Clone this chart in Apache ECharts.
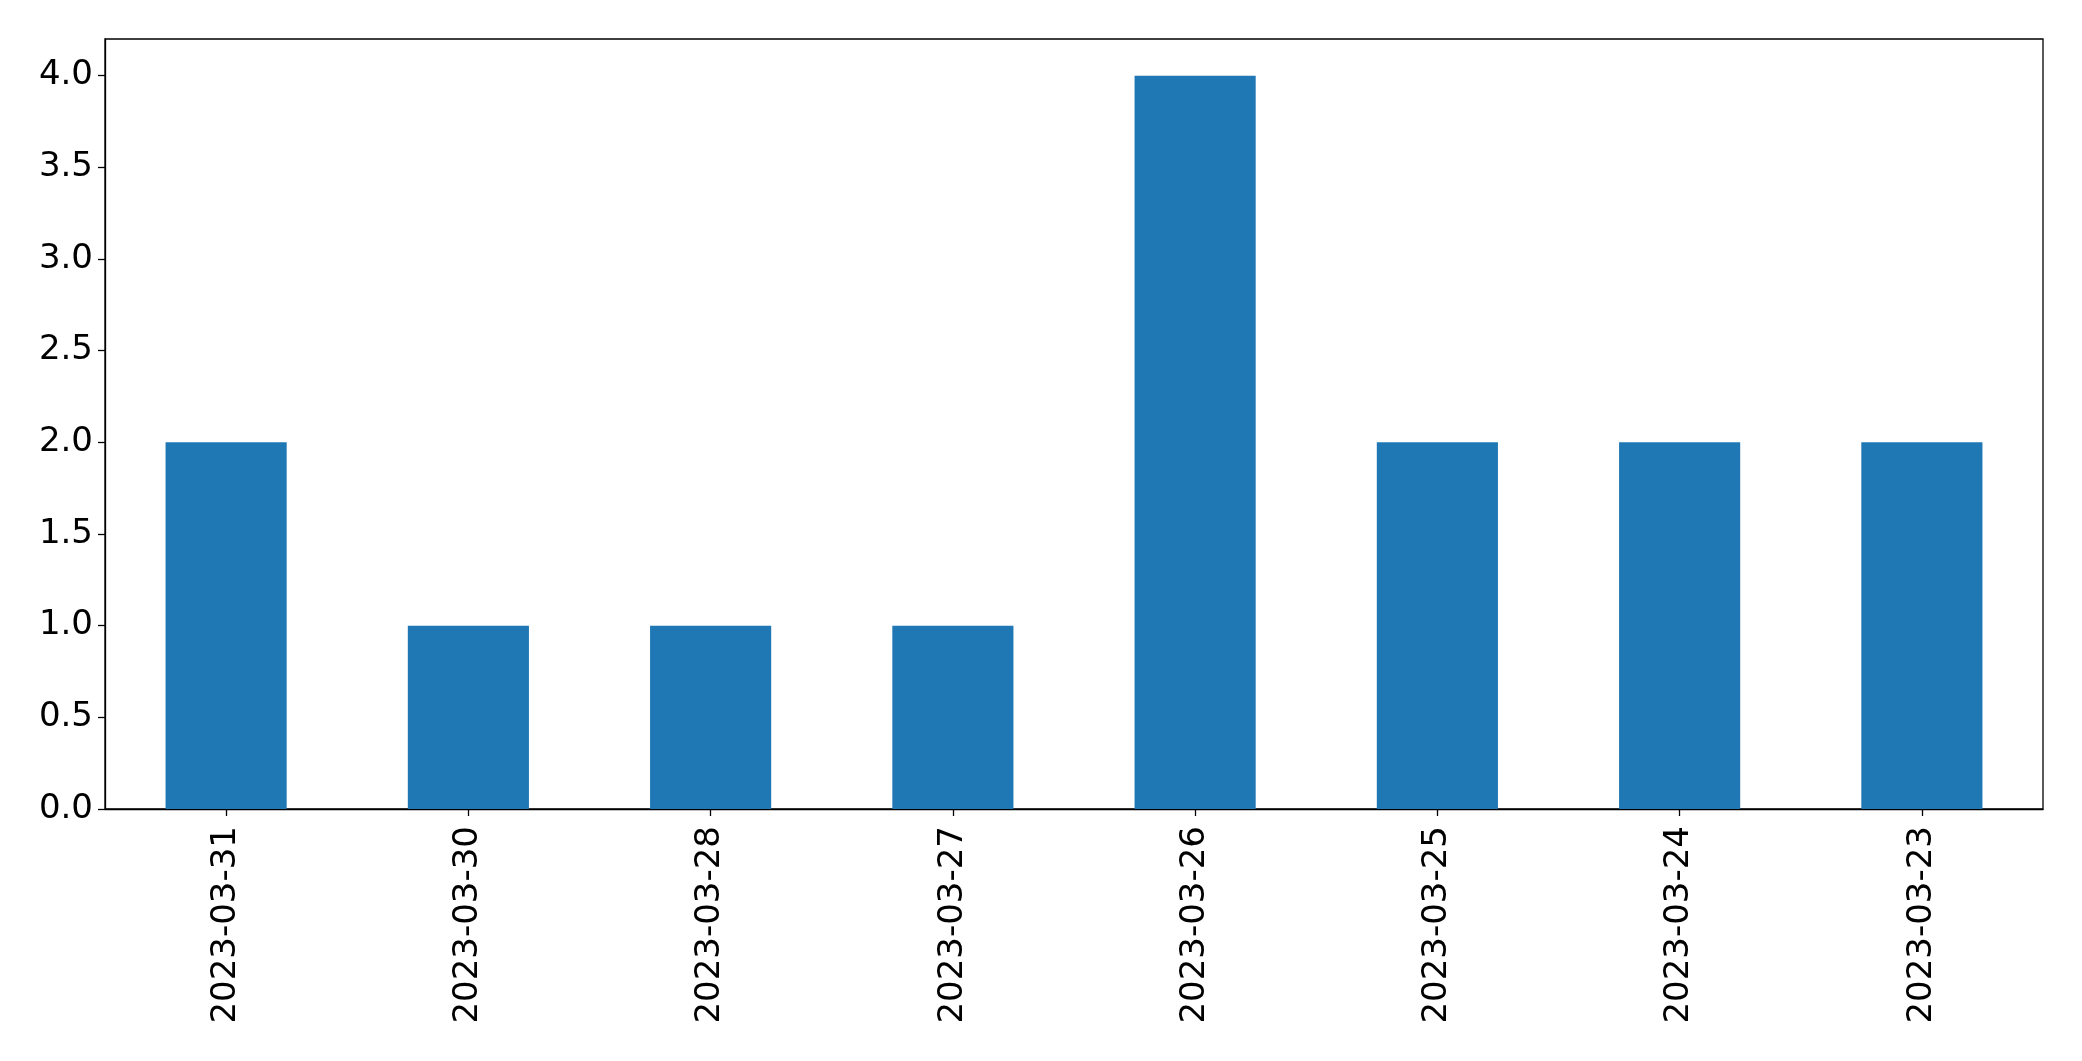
<!DOCTYPE html>
<html>
<head>
<meta charset="utf-8">
<script src="https://cdn.jsdelivr.net/npm/echarts@6/dist/echarts.min.js"></script>
<style>
html,body{margin:0;padding:0;background:#fff;}
#chart{width:2082px;height:1061px;}
</style>
</head>
<body>
<div id="chart"></div>
<script>
const categories = ['2023-03-31','2023-03-30','2023-03-28','2023-03-27','2023-03-26','2023-03-25','2023-03-24','2023-03-23'];
const values = [2, 1, 1, 1, 4, 2, 2, 2];
const yTicks = [0.0, 0.5, 1.0, 1.5, 2.0, 2.5, 3.0, 3.5, 4.0];

const chart = echarts.init(document.getElementById('chart'), null, {renderer: 'canvas'});
const font = 'DejaVu Sans';
chart.setOption({
  animation: false,
  backgroundColor: '#ffffff',
  grid: {
    left: 105, top: 39, right: 39, bottom: 252,
    show: true, borderColor: '#000', borderWidth: 1.3, backgroundColor: 'transparent'
  },
  xAxis: {
    type: 'category',
    data: categories,
    axisLine: {show: true, lineStyle: {color: '#000', width: 1.3}},
    axisTick: {show: true, alignWithLabel: true, length: 7, lineStyle: {color: '#000', width: 1.3}},
    axisLabel: {rotate: 90, color: '#000', fontSize: 34, fontFamily: font, margin: 17, interval: 0}
  },
  yAxis: {
    type: 'value',
    min: 0, max: 4.2, interval: 0.5,
    axisLine: {show: true, lineStyle: {color: '#000', width: 1.3}},
    axisTick: {show: true, length: 7, lineStyle: {color: '#000', width: 1.3}},
    splitLine: {show: false},
    axisLabel: {
      color: '#000', fontSize: 34, fontFamily: font, margin: 12,
      formatter: function (v) { return yTicks.indexOf(v) >= 0 ? v.toFixed(1) : ''; },
      showMaxLabel: false
    }
  },
  series: [{
    type: 'bar',
    data: values,
    barWidth: '50%',
    itemStyle: {color: '#1f77b4'}
  }]
});
</script>
</body>
</html>
